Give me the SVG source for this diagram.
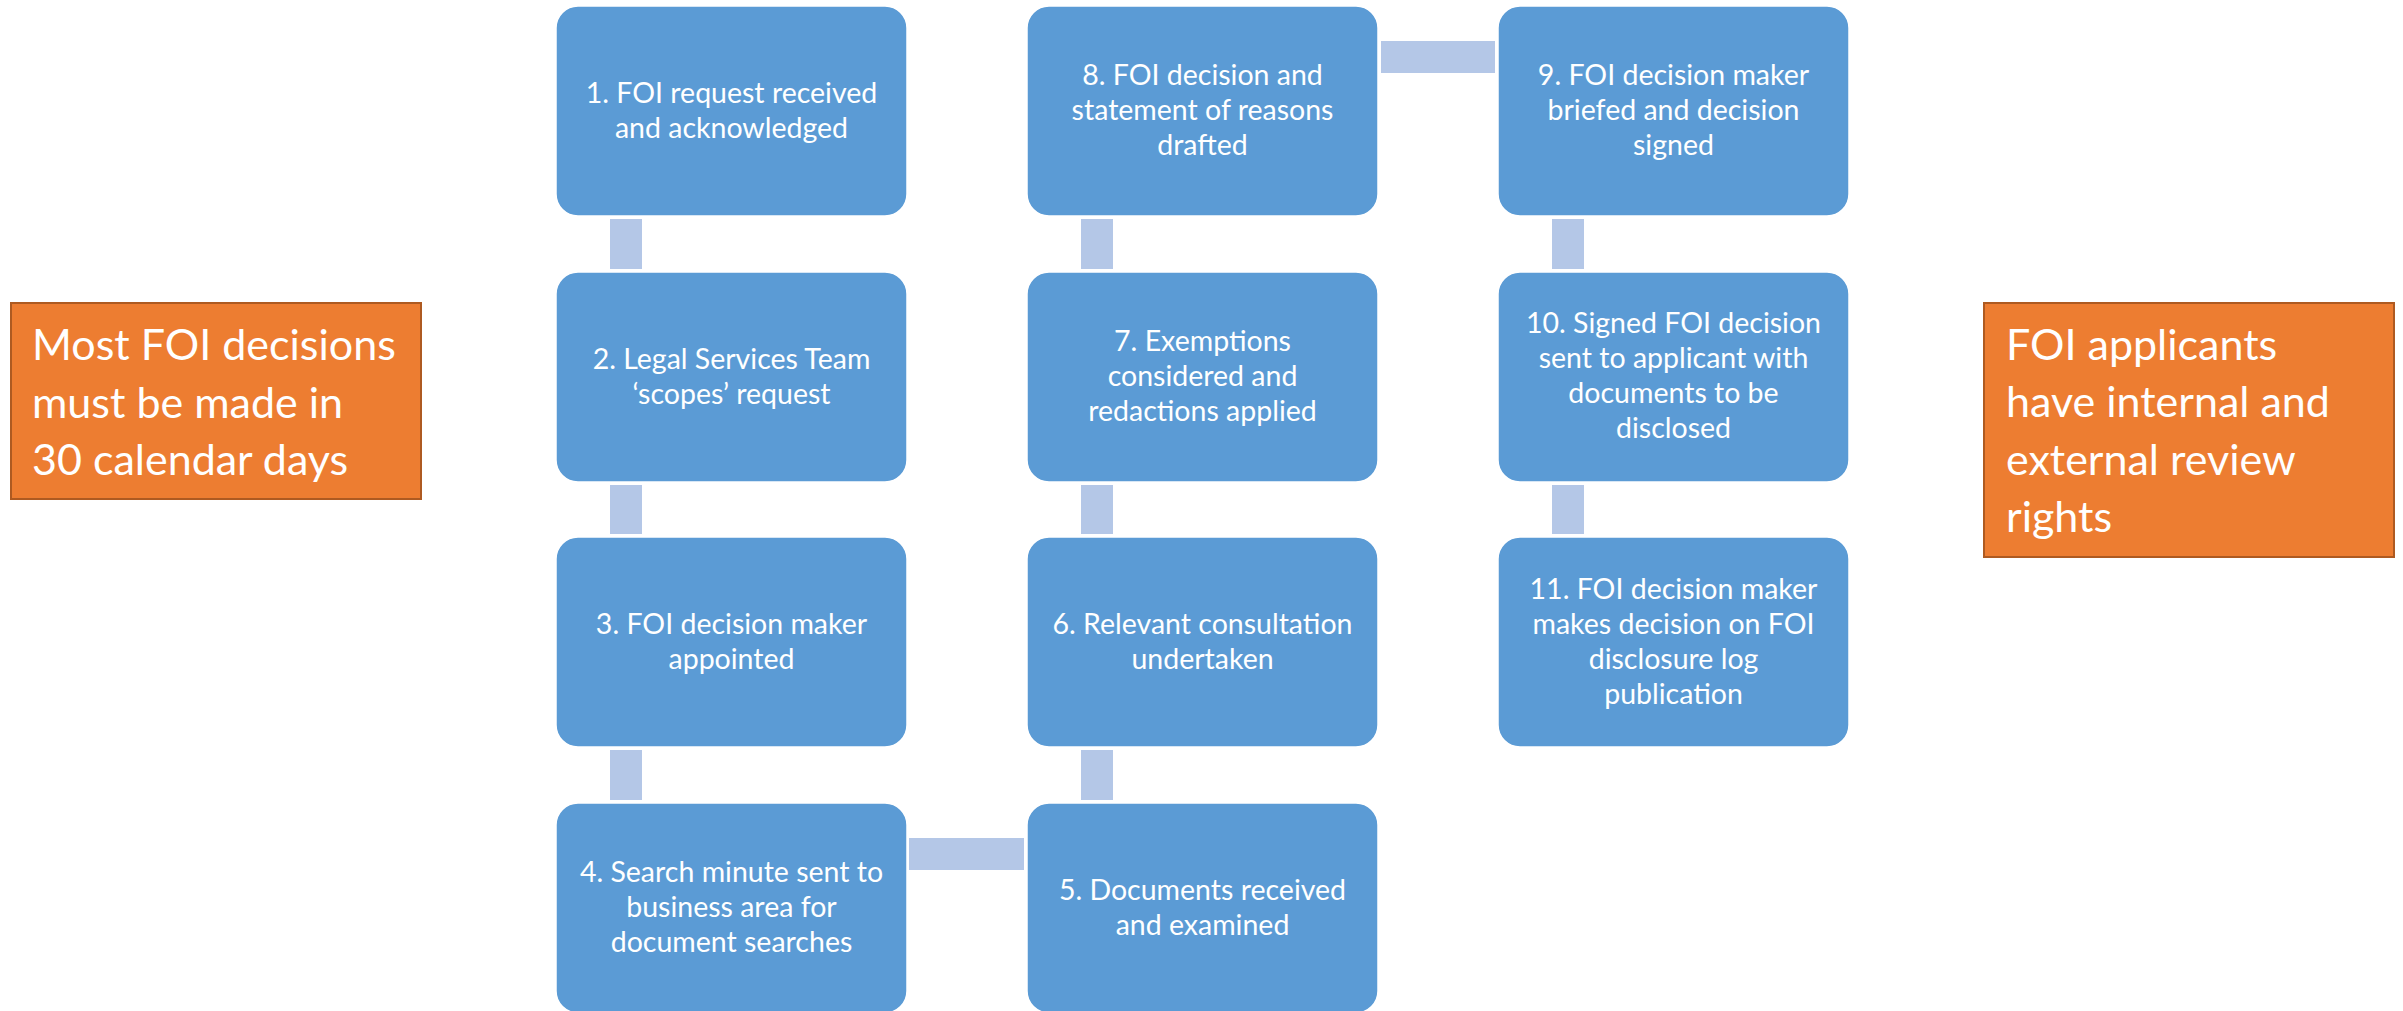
<svg xmlns="http://www.w3.org/2000/svg" width="2403" height="1011" viewBox="0 0 2403 1011">
  <style>
    .step rect { fill: #5B9BD5; stroke: #FFFFFF; stroke-width: 1.5; }
    .step text { font-family: Lato, "Liberation Sans", sans-serif; font-size: 28.5px; fill: #FFFFFF; text-anchor: middle; }
    .note rect { fill: #ED7D31; stroke: #AE5A21; stroke-width: 2; }
    .note text { font-family: Lato, "Liberation Sans", sans-serif; font-size: 43px; fill: #FFFFFF; }
    .link { fill: #B4C7E7; }
  </style>
  <rect width="2403" height="1011" fill="#FFFFFF"/>

  <!-- connectors between process steps -->
  <g id="connectors">
    <rect class="link" x="610" y="219" width="32" height="50"/>
    <rect class="link" x="610" y="485" width="32" height="49"/>
    <rect class="link" x="610" y="750" width="32" height="50"/>
    <rect class="link" x="909" y="838" width="115" height="32"/>
    <rect class="link" x="1081" y="750" width="32" height="50"/>
    <rect class="link" x="1081" y="485" width="32" height="49"/>
    <rect class="link" x="1081" y="219" width="32" height="50"/>
    <rect class="link" x="1381" y="41" width="114" height="32"/>
    <rect class="link" x="1552" y="219" width="32" height="50"/>
    <rect class="link" x="1552" y="485" width="32" height="49"/>
  </g>

  <!-- column 1 -->
  <g id="step1" class="step">
    <rect x="556" y="6" width="351" height="210" rx="22"/>
    <text x="731.5" y="102.5">1. FOI request received</text>
    <text x="731.5" y="137.5">and acknowledged</text>
  </g>
  <g id="step2" class="step">
    <rect x="556" y="272" width="351" height="210" rx="22"/>
    <text x="731.5" y="368.5">2. Legal Services Team</text>
    <text x="731.5" y="403.5">‘scopes’ request</text>
  </g>
  <g id="step3" class="step">
    <rect x="556" y="537" width="351" height="210" rx="22"/>
    <text x="731.5" y="633.5">3. FOI decision maker</text>
    <text x="731.5" y="668.5">appointed</text>
  </g>
  <g id="step4" class="step">
    <rect x="556" y="803" width="351" height="210" rx="22"/>
    <text x="731.5" y="882">4. Search minute sent to</text>
    <text x="731.5" y="917">business area for</text>
    <text x="731.5" y="952">document searches</text>
  </g>

  <!-- column 2 -->
  <g id="step5" class="step">
    <rect x="1027" y="803" width="351" height="210" rx="22"/>
    <text x="1202.5" y="899.5">5. Documents received</text>
    <text x="1202.5" y="934.5">and examined</text>
  </g>
  <g id="step6" class="step">
    <rect x="1027" y="537" width="351" height="210" rx="22"/>
    <text x="1202.5" y="633.5">6. Relevant consultation</text>
    <text x="1202.5" y="668.5">undertaken</text>
  </g>
  <g id="step7" class="step">
    <rect x="1027" y="272" width="351" height="210" rx="22"/>
    <text x="1202.5" y="351">7. Exemptions</text>
    <text x="1202.5" y="386">considered and</text>
    <text x="1202.5" y="421">redactions applied</text>
  </g>
  <g id="step8" class="step">
    <rect x="1027" y="6" width="351" height="210" rx="22"/>
    <text x="1202.5" y="85">8. FOI decision and</text>
    <text x="1202.5" y="120">statement of reasons</text>
    <text x="1202.5" y="155">drafted</text>
  </g>

  <!-- column 3 -->
  <g id="step9" class="step">
    <rect x="1498" y="6" width="351" height="210" rx="22"/>
    <text x="1673.5" y="85">9. FOI decision maker</text>
    <text x="1673.5" y="120">briefed and decision</text>
    <text x="1673.5" y="155">signed</text>
  </g>
  <g id="step10" class="step">
    <rect x="1498" y="272" width="351" height="210" rx="22"/>
    <text x="1673.5" y="333">10. Signed FOI decision</text>
    <text x="1673.5" y="368">sent to applicant with</text>
    <text x="1673.5" y="403">documents to be</text>
    <text x="1673.5" y="438">disclosed</text>
  </g>
  <g id="step11" class="step">
    <rect x="1498" y="537" width="351" height="210" rx="22"/>
    <text x="1673.5" y="598.5">11. FOI decision maker</text>
    <text x="1673.5" y="633.5">makes decision on FOI</text>
    <text x="1673.5" y="668.5">disclosure log</text>
    <text x="1673.5" y="703.5">publication</text>
  </g>

  <!-- side notes -->
  <g id="note-timeframe" class="note">
    <rect x="11" y="303" width="410" height="196"/>
    <text x="32" y="360">Most FOI decisions</text>
    <text x="32" y="417.5">must be made in</text>
    <text x="32" y="475">30 calendar days</text>
  </g>
  <g id="note-review" class="note">
    <rect x="1984" y="303" width="410" height="254"/>
    <text x="2006" y="360">FOI applicants</text>
    <text x="2006" y="417.3">have internal and</text>
    <text x="2006" y="474.5">external review</text>
    <text x="2006" y="531.7">rights</text>
  </g>
</svg>
